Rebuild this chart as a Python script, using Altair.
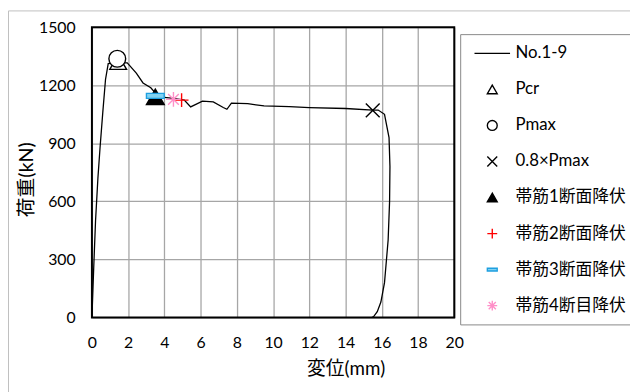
import altair as alt
import pandas as pd

# ---- data ----
curve_x = [0, 0.1, 0.2, 0.33, 0.45, 0.6, 0.75, 0.9, 1.2, 1.95, 2.45, 2.82, 3.25, 3.5, 4.0, 4.5,
           5.1, 5.45, 6.1, 6.7, 7.25, 7.45, 7.7, 8.6, 9.5, 10.9, 12.0, 14.0, 15.5, 15.8, 16.15,
           16.4, 16.45, 16.43, 16.35, 16.15, 15.95, 15.75, 15.55, 15.45]
curve_y = [0, 260, 500, 720, 880, 1060, 1230, 1312, 1316, 1316, 1263, 1212, 1187, 1160, 1137, 1132,
           1124, 1088, 1118, 1114, 1085, 1076, 1108, 1105, 1093, 1090, 1085, 1080, 1072, 1072, 1050,
           930, 780, 600, 400, 180, 80, 30, 5, 0]

series = ["No.1-9", "Pcr", "Pmax", "0.8×Pmax", "帯筋1断面降伏", "帯筋2断面降伏", "帯筋3断面降伏", "帯筋4断目降伏"]
point_series = series[1:]
point_x = [1.45, 1.4, 15.5, 3.5, 4.95, 3.5, 4.5]
point_y = [1320, 1337, 1070, 1140, 1123, 1145, 1127]

x_ticks = [0, 2, 4, 6, 8, 10, 12, 14, 16, 18, 20]
y_ticks = [0, 300, 600, 900, 1200, 1500]

# ---- styles ----
FONT = "Lato, 'Noto Sans CJK JP', sans-serif"
shapes = ["M-3.6,0H3.6", "triangle-up", "circle", "M-1,-1L1,1M-1,1L1,-1", "triangle-up",
          "M-1,0H1M0,-1V1", "M-1,-0.28H1V0.28H-1Z",
          "M-1,0H1M0,-1V1M-0.72,-0.72L0.72,0.72M-0.72,0.72L0.72,-0.72"]
strokes = ["black", "black", "black", "black", "black", "#FF0000", "#1E9FE0", "#FF8FC8"]
fills = ["transparent", "white", "white", "transparent", "black", "transparent", "#80D2F2", "transparent"]
sizes = {"Pcr": 289, "Pmax": 289, "0.8×Pmax": 196, "帯筋1断面降伏": 324,
         "帯筋2断面降伏": 196, "帯筋3断面降伏": 324, "帯筋4断目降伏": 225}

W, H = 367, 294

curve_df = pd.DataFrame({"x": curve_x, "y": curve_y, "i": range(len(curve_x)), "s": "No.1-9"})
pts_df = pd.DataFrame({"x": point_x, "y": point_y, "s": point_series})

xs = alt.Scale(domain=[0, 20], nice=False)
ys = alt.Scale(domain=[0, 1500], nice=False)
shape_scale = alt.Scale(domain=series, range=shapes)
stroke_scale = alt.Scale(domain=series, range=strokes)
fill_scale = alt.Scale(domain=series, range=fills)

legend = alt.Legend(title=None, orient="none", legendX=373, legendY=7, padding=11,
                    strokeColor="#888888", fillColor="white", symbolSize=100,
                    symbolStrokeWidth=1.4, symbolOffset=13, labelOffset=15, rowPadding=18.5,
                    labelFont=FONT, labelFontSize=17, labelColor="black", labelLimit=300)

xaxis = alt.Axis(values=x_ticks, tickCount=11, title="変位(mm)", ticks=False, domain=False, format="d",
                 labelOverlap=False, labelFlush=False,
                 grid=True, gridColor="#A6A6A6", gridWidth=1.3,
                 labelFont=FONT, labelFontSize=16, labelColor="black", labelPadding=17,
                 titleFont=FONT, titleFontSize=19, titleFontWeight="normal", titleColor="black",
                 titleX=257, titleY=52, titleBaseline="middle")
yaxis = alt.Axis(values=y_ticks, tickCount=6, title="荷重(kN)", ticks=False, domain=False, format="d",
                 labelOverlap=False, labelFlush=False,
                 grid=True, gridColor="#A6A6A6", gridWidth=1.3,
                 labelFont=FONT, labelFontSize=16, labelColor="black", labelPadding=17,
                 titleFont=FONT, titleFontSize=20, titleFontWeight="normal", titleColor="black",
                 titleX=-66, titleY=154, titleAngle=270, titleAlign="center", titleBaseline="middle")

X = alt.X("x:Q", scale=xs, axis=xaxis)
Y = alt.Y("y:Q", scale=ys, axis=yaxis)

line = alt.Chart(curve_df).mark_line(strokeWidth=1.3).encode(
    x=X, y=Y, order="i:Q",
    stroke=alt.Stroke("s:N", scale=stroke_scale, legend=legend),
)

layers = [line]
for name in point_series:
    layers.append(
        alt.Chart(pts_df).transform_filter(alt.datum.s == name).mark_point(
            filled=False, strokeWidth=1.4, opacity=1, size=sizes[name]
        ).encode(
            x=X, y=Y,
            shape=alt.Shape("s:N", scale=shape_scale, legend=legend),
            stroke=alt.Stroke("s:N", scale=stroke_scale, legend=legend),
            fill=alt.Fill("s:N", scale=fill_scale, legend=legend),
        )
    )

frame = alt.Chart(pd.DataFrame({"a": [0]})).mark_rect(fill=None, stroke="black", strokeWidth=2).encode(
    x=alt.value(0), x2=alt.value(W), y=alt.value(0), y2=alt.value(H))
outer = alt.Chart(pd.DataFrame({"a": [0]})).mark_rect(fill=None, stroke="#BFBFBF", strokeWidth=1).encode(
    x=alt.value(-84.5), x2=alt.value(W + 300), y=alt.value(-16.5), y2=alt.value(H + 200))

chart = alt.layer(outer, *layers, frame).properties(
    width=W, height=H,
    autosize=alt.AutoSizeParams(type="none"),
    padding={"left": 85, "top": 17, "right": 178, "bottom": 73},
).configure_view(stroke=None)

chart.save("out.html", embed_options={"renderer": "svg", "actions": False})
